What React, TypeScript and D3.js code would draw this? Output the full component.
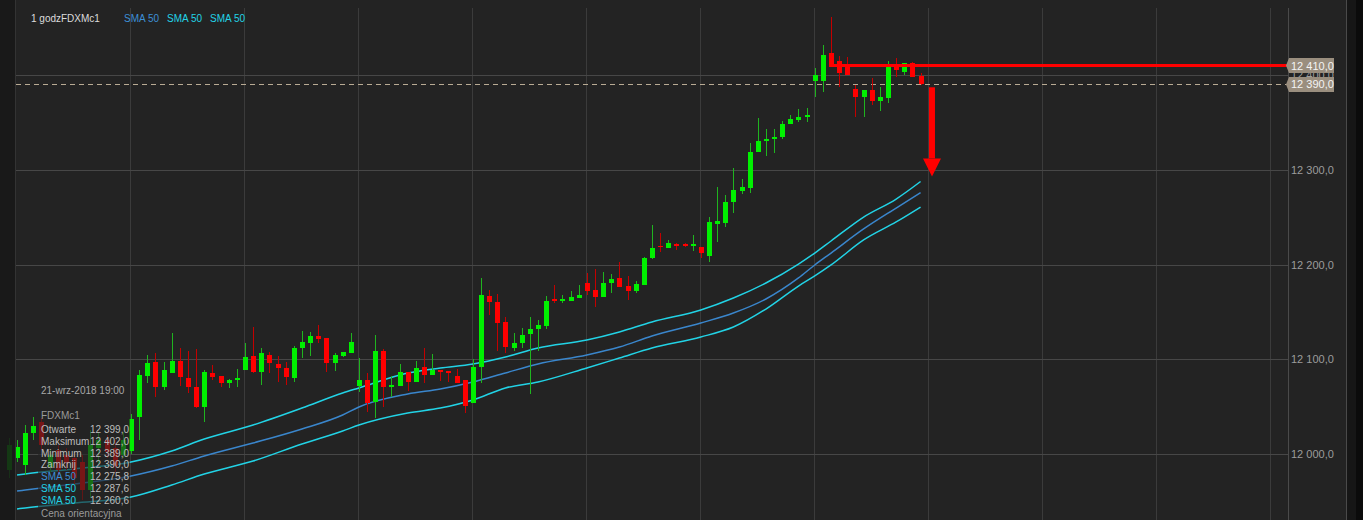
import { useEffect } from "react";
import * as d3 from "d3";

// FDXMc1, 1h bars, oldest first (last bar: 21-wrz-2018 19:00)
const OPEN = [
  11983, 11996, 11988, 12022, 12034, 11986, 12004, 11999, 11996, 11992, 11962, 12006, 12015, 12006, 11999,
  12003, 12039, 12082, 12097, 12071, 12085, 12098, 12080, 12071, 12050, 12085, 12082, 12075, 12078,
  12089, 12103, 12087, 12104, 12095, 12091, 12080, 12112, 12117, 12125, 12122, 12096, 12103, 12107,
  12072, 12078, 12055, 12109, 12071, 12072, 12087, 12076, 12092, 12083, 12089, 12088, 12082, 12078,
  12054, 12092, 12167, 12160, 12139, 12112, 12117, 12127, 12132, 12135, 12164, 12161, 12161, 12165,
  12180, 12173, 12166, 12180, 12186, 12177, 12172, 12178, 12207, 12219, 12217, 12222, 12222, 12220,
  12218, 12209, 12243, 12244, 12266, 12278, 12281, 12319, 12330, 12332, 12335, 12348, 12353, 12356,
  12394, 12394, 12423, 12415, 12412, 12385, 12377, 12384, 12373, 12376, 12411, 12403, 12413, 12399,
];
const HIGH = [
  12017, 12015, 12031, 12039, 12038, 12004, 12010, 12006, 12002, 11999, 12025, 12023, 12020, 12015, 12023,
  12042, 12089, 12104, 12107, 12097, 12128, 12112, 12109, 12111, 12089, 12094, 12082, 12079, 12090,
  12117, 12134, 12112, 12108, 12103, 12097, 12114, 12130, 12129, 12136, 12122, 12107, 12108, 12128,
  12101, 12085, 12126, 12111, 12082, 12095, 12087, 12098, 12112, 12106, 12089, 12088, 12090, 12078,
  12100, 12186, 12173, 12169, 12145, 12128, 12133, 12145, 12141, 12167, 12178, 12168, 12172, 12178,
  12191, 12195, 12192, 12190, 12203, 12188, 12183, 12208, 12242, 12233, 12226, 12223, 12223, 12231,
  12218, 12250, 12282, 12273, 12302, 12290, 12328, 12355, 12343, 12343, 12351, 12358, 12364, 12365,
  12407, 12432, 12461, 12420, 12419, 12389, 12384, 12397, 12387, 12415, 12418, 12413, 12414, 12402,
];
const LOW = [
  11975, 11992, 11978, 12015, 12004, 11981, 11973, 11983, 11967, 11951, 11954, 11989, 11996, 11981, 11996,
  12000, 12015, 12075, 12060, 12068, 12085, 12072, 12064, 12049, 12034, 12078, 12071, 12070, 12071,
  12089, 12085, 12073, 12085, 12076, 12073, 12076, 12101, 12103, 12117, 12087, 12088, 12102, 12107,
  12065, 12044, 12038, 12050, 12060, 12072, 12066, 12076, 12075, 12083, 12077, 12076, 12075, 12043,
  12054, 12075, 12147, 12109, 12107, 12109, 12112, 12063, 12109, 12132, 12159, 12159, 12161, 12165,
  12168, 12155, 12166, 12170, 12176, 12163, 12170, 12178, 12206, 12213, 12217, 12215, 12218, 12214,
  12207, 12203, 12224, 12240, 12254, 12274, 12275, 12319, 12315, 12318, 12332, 12348, 12350, 12350,
  12377, 12382, 12411, 12387, 12400, 12356, 12356, 12368, 12362, 12370, 12398, 12400, 12398, 12389,
];
const CLOSE = [
  12009, 12007, 12022, 12030, 12009, 11999, 11983, 11991, 11975, 11962, 12009, 12015, 12002, 11987, 12015,
  12037, 12083, 12096, 12071, 12089, 12098, 12081, 12071, 12050, 12087, 12081, 12075, 12078, 12080,
  12102, 12087, 12107, 12096, 12091, 12081, 12112, 12118, 12125, 12121, 12096, 12104, 12108, 12118,
  12078, 12054, 12109, 12071, 12073, 12087, 12076, 12091, 12083, 12089, 12087, 12085, 12075, 12051,
  12092, 12168, 12160, 12138, 12113, 12117, 12126, 12132, 12136, 12161, 12161, 12164, 12166, 12168,
  12172, 12166, 12180, 12185, 12176, 12172, 12179, 12207, 12217, 12218, 12223, 12220, 12220, 12222,
  12212, 12245, 12246, 12266, 12279, 12282, 12319, 12330, 12332, 12335, 12348, 12354, 12356, 12358,
  12400, 12421, 12411, 12402, 12400, 12377, 12384, 12373, 12377, 12410, 12405, 12413, 12398, 12390,
];

// the three SMA 50 lines, read at these bar numbers
const SMA_AT = [1, 2, 8, 15, 20, 24, 30, 36, 41, 43, 49, 53, 57, 61, 65, 71, 75, 79, 85, 89, 93, 97, 99, 101, 105, 109, 112];
const SMA_UPPER = [
  11977.8, 11978.9, 11984.2, 11991.6, 12003.2, 12015.8, 12030.6, 12048.5, 12064.4, 12069.7, 12085.5, 12090.8, 12095.0, 12102.4,
  12111.9, 12120.3, 12128.8, 12139.3, 12152.0, 12164.6, 12180.5, 12200.5, 12212.1, 12224.8, 12250.1, 12269.1, 12287.6,
];
const SMA_MID = [
  11961.0, 11962.0, 11968.3, 11976.8, 11987.3, 11997.9, 12011.6, 12026.4, 12041.2, 12049.6, 12063.3, 12068.6, 12076.0, 12085.5,
  12095.0, 12104.5, 12112.9, 12124.5, 12138.3, 12148.8, 12163.6, 12185.8, 12199.5, 12212.1, 12237.5, 12259.6, 12275.8,
];
const SMA_LOWER = [
  11942.0, 11943.0, 11948.3, 11954.6, 11967.3, 11978.9, 11992.6, 12010.6, 12024.3, 12030.6, 12043.3, 12048.5, 12057.0, 12069.7,
  12076.0, 12090.8, 12101.3, 12111.9, 12123.5, 12134.0, 12153.0, 12177.3, 12187.9, 12199.5, 12225.9, 12244.9, 12260.6,
];

const PRICE_TICKS = [12000, 12100, 12200, 12300, 12400];
const SESSION_STARTS = [15, 29, 43, 57, 71, 85, 99, 113, 127, 141, 155];
const SLOTS = 157;

const TARGET_LEVEL = 12410; // red horizontal line
const TARGET_FROM = 101;
const ARROW = { at: 113.4, from: 12387, head: 12312, to: 12293 };
const LAST_PRICE = 12390;

const LAST_BAR = "21-wrz-2018 19:00";
const SYMBOL = "FDXMc1";
const INFO_ROWS = [
  { label: "Otwarte", value: 12399.0, color: "#bdbdbd" },
  { label: "Maksimum", value: 12402.0, color: "#bdbdbd" },
  { label: "Minimum", value: 12389.0, color: "#bdbdbd" },
  { label: "Zamknij", value: 12390.0, color: "#bdbdbd" },
  { label: "SMA 50", value: 12275.8, color: "#3d8fd6" },
  { label: "SMA 50", value: 12287.6, color: "#22d3e6" },
  { label: "SMA 50", value: 12260.6, color: "#22d3e6" },
];

const W = 1363;
const H = 520;
const PLOT = { left: 16, right: 1288, top: 8, bottom: 520 };
const BG = "#232323";
const UP = "#00f000";
const UP_WICK = "#1fb41f";
const DN = "#ff0000";
const DN_WICK = "#c40000";
const CYAN = "#22d3e6";
const BLUE = "#3a86cc";
const FONT = "'Liberation Sans', Arial, sans-serif";

const plFormat = d3.formatLocale({ decimal: ",", thousands: " ", grouping: [3], currency: ["", ""] }).format(",.1f");

export default function App() {
  useEffect(() => {
    document.body.style.margin = "0";
    document.body.style.overflow = "hidden";
    document.body.style.background = BG;
  }, []);

  const x = d3.scaleLinear().domain([0, SLOTS]).range([8.9, 8.9 + SLOTS * 8.14]);
  const y = d3.scaleLinear().domain([12000, 12400]).range([454, 75]);

  const smaLine = (vals: number[]) =>
    d3.line<number>()
      .x((_, k) => x(SMA_AT[k]))
      .y(d => y(d))
      .curve(d3.curveMonotoneX)(vals) || "";

  const ax = x(ARROW.at);

  return (
    <svg width={W} height={H} style={{ position: "absolute", left: 0, top: 0, display: "block" }} fontFamily={FONT}>
      <rect x={0} y={0} width={W} height={H} fill={BG} />

      {/* grid */}
      {SESSION_STARTS.map(s => (
        <line key={"v" + s} x1={Math.round(x(s)) - 0.5} x2={Math.round(x(s)) - 0.5} y1={PLOT.top} y2={PLOT.bottom} stroke="#3b3b3b" />
      ))}
      {PRICE_TICKS.map(p => (
        <line key={"h" + p} x1={PLOT.left} x2={PLOT.right} y1={Math.round(y(p)) + 0.5} y2={Math.round(y(p)) + 0.5} stroke="#474747" />
      ))}
      <line x1={PLOT.right + 0.5} x2={PLOT.right + 0.5} y1={PLOT.top} y2={PLOT.bottom} stroke="#4a4a4a" />

      {/* last price */}
      <line x1={PLOT.left} x2={PLOT.right} y1={Math.round(y(LAST_PRICE)) + 0.5} y2={Math.round(y(LAST_PRICE)) + 0.5}
        stroke="#b9ab94" strokeDasharray="5,4" />

      {/* SMA */}
      <path d={smaLine(SMA_UPPER)} fill="none" stroke={CYAN} strokeWidth={1.5} />
      <path d={smaLine(SMA_MID)} fill="none" stroke={BLUE} strokeWidth={1.5} />
      <path d={smaLine(SMA_LOWER)} fill="none" stroke={CYAN} strokeWidth={1.5} />

      {/* candles */}
      {OPEN.map((o, i) => {
        const c = CLOSE[i];
        const up = c >= o;
        const cx = Math.round(x(i));
        const top = Math.round(y(Math.max(o, c)));
        const bot = Math.round(y(Math.min(o, c)));
        return (
          <g key={i}>
            <line x1={cx + 0.5} x2={cx + 0.5} y1={Math.round(y(HIGH[i]))} y2={Math.round(y(LOW[i]))} stroke={up ? UP_WICK : DN_WICK} />
            <rect x={cx - 2} y={top} width={5} height={Math.max(1, bot - top)} fill={up ? UP : DN} />
          </g>
        );
      })}

      {/* target line + arrow */}
      <line x1={x(TARGET_FROM) - 2} x2={PLOT.right} y1={y(TARGET_LEVEL)} y2={y(TARGET_LEVEL)} stroke="#ff0000" strokeWidth={3} />
      <rect x={ax - 3} y={y(ARROW.from)} width={6} height={y(ARROW.head) - y(ARROW.from)} fill="#ff0000" />
      <path d={`M${ax - 9},${y(ARROW.head)}L${ax + 9},${y(ARROW.head)}L${ax},${y(ARROW.to)}Z`} fill="#ff0000" />

      {/* data window */}
      <rect x={38} y={380} width={92} height={140} fill={BG} opacity={0.62} />
      <text x={41} y={394} fontSize={10} fill="#a8a8a8">{LAST_BAR}</text>
      <text x={41} y={419} fontSize={10} fill="#9a9a9a">{SYMBOL}</text>
      {INFO_ROWS.map((r, k) => (
        <g key={k}>
          <text x={41} y={433 + k * 11.8} fontSize={10} fill={r.color}>{r.label}</text>
          <text x={129} y={433 + k * 11.8} fontSize={10} fill="#bdbdbd" textAnchor="end">{plFormat(r.value)}</text>
        </g>
      ))}
      <text x={41} y={517} fontSize={10} fill="#9a9a9a">Cena orientacyjna</text>

      {/* side strips */}
      <rect x={0} y={0} width={PLOT.left} height={H} fill="#171717" opacity={0.85} />
      <line x1={PLOT.left - 0.5} x2={PLOT.left - 0.5} y1={0} y2={H} stroke="#333" />
      <rect x={1346} y={0} width={17} height={H} fill="#161616" />
      <rect x={1356} y={0} width={7} height={H} fill="#0b0b0b" />
      <line x1={1346.5} x2={1346.5} y1={0} y2={H} stroke="#4a4a4a" />

      {/* price axis */}
      {PRICE_TICKS.map(p => (
        <text key={"t" + p} x={PLOT.right + 3} y={y(p) + 4} fontSize={11} fill="#9c9c9c">{plFormat(p)}</text>
      ))}
      {[TARGET_LEVEL, LAST_PRICE].map(p => (
        <g key={"b" + p}>
          <path d={`M${PLOT.right - 2},${y(p)}L${PLOT.right + 1},${y(p) - 7.5}L${PLOT.right + 46},${y(p) - 7.5}L${PLOT.right + 46},${y(p) + 7.5}L${PLOT.right + 1},${y(p) + 7.5}Z`}
            fill="#9a8e7e" />
          <text x={PLOT.right + 3} y={y(p) + 4} fontSize={11} fill="#f4f4f4">{plFormat(p)}</text>
        </g>
      ))}

      {/* header */}
      <text x={31} y={22} fontSize={10} fill="#dcdcdc">1 godz</text>
      <text x={61} y={22} fontSize={10} fill="#dcdcdc">{SYMBOL}</text>
      <text x={124} y={22} fontSize={10} fill="#3d8fd6">SMA 50</text>
      <text x={167} y={22} fontSize={10} fill={CYAN}>SMA 50</text>
      <text x={210} y={22} fontSize={10} fill={CYAN}>SMA 50</text>
    </svg>
  );
}
